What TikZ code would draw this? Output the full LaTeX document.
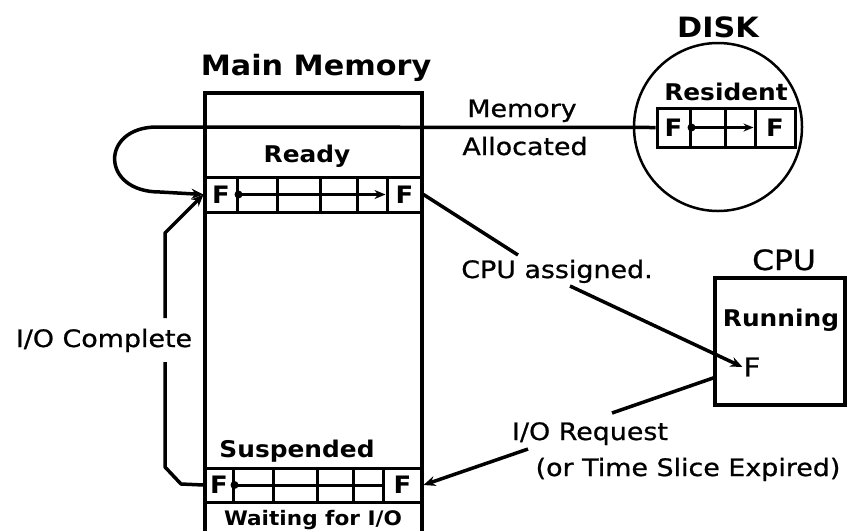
\documentclass[tikz,border=0pt]{standalone}
\usepackage{fontspec}
\setmainfont{DejaVu Sans}[FakeStretch=1.12,FakeBold=0.8]
\newfontfamily\boldfam{DejaVu Sans}[FakeStretch=1.08]
\usetikzlibrary{arrows.meta}
\begin{document}
\begin{tikzpicture}[x=1pt,y=-1pt,
  lbl/.style={font=\fontsize{24}{28}\selectfont, inner sep=0pt, anchor=base},
  ttl/.style={font=\boldfam\bfseries\fontsize{28}{32}\selectfont, inner sep=0pt, anchor=base},
  qlbl/.style={font=\boldfam\bfseries\fontsize{23}{26}\selectfont, inner sep=0pt, anchor=base},
  fcell/.style={draw, line width=3pt, rectangle, inner sep=0pt, minimum height=35,
     font=\boldfam\bfseries\fontsize{24}{26}\selectfont},
  qbox/.style={draw, line width=3pt},
  qline/.style={line width=3pt},
  conn/.style={line width=3.5pt, line join=round},
  tip/.style={-{Stealth[length=12pt,width=10pt]}},
  dot/.style={circle, fill, inner sep=0pt, minimum size=8pt},
  frame/.style={line width=4pt}
]
\useasboundingbox (0,0) rectangle (853,531);

% ---------- Main memory ----------
\node[ttl] (mmt) at (316,75) {Main Memory};
\draw[frame] (205,531) -- (205,93) -- (422,93) -- (422,531);

% Ready queue
\node[qlbl] (ready) at (307,162) {Ready};
\draw[qbox] (205,177) rectangle (422,212);
\node[fcell, minimum width=32] (rF1) at (221,194.5) {F};
\node[fcell, minimum width=35] (rF2) at (404.5,194.5) {F};
\foreach \x in {277,320,357} \draw[qline] (\x,177) -- (\x,212);
\node[dot] (rdot) at (rF1.east) {};
\draw[qline, -{Stealth[length=11pt,width=9pt]}] (rdot.center) -- (rF2.west);

% Suspended queue
\node[qlbl] (susp) at (297,457) {Suspended};
\draw[qbox] (205,468) rectangle (422,502);
\node[fcell, minimum width=28, minimum height=34] (sF1) at (219,485) {F};
\node[fcell, minimum width=39, minimum height=34] (sF2) at (402.5,485) {F};
\foreach \x in {273,317,353} \draw[qline] (\x,468) -- (\x,502);
\node[dot] (sdot) at (sF1.east) {};
\draw[qline] (sdot.center) -- (sF2.west);
\node[font=\boldfam\bfseries\fontsize{20}{22}\selectfont, inner sep=0pt, anchor=base] (wait) at (313,525) {Waiting for I/O};

% ---------- Disk ----------
\node[ttl] (diskt) at (718,37) {DISK};
\node[circle, draw, line width=2.5pt, minimum size=168, inner sep=0pt] (disk) at (718,127) {};
\node[qlbl] (res) at (726,100) {Resident};
\draw[qbox] (657,108) rectangle (795,147);
\node[fcell, minimum width=33, minimum height=39] (dF1) at (673.5,127.5) {F};
\node[fcell, minimum width=40, minimum height=39] (dF2) at (775,127.5) {F};
\draw[qline] (725,108) -- (725,147);
\node[dot] (ddot) at (dF1.east) {};
\draw[qline, -{Stealth[length=10pt,width=8pt]}] (ddot.center) -- (dF2.west);

% ---------- CPU ----------
\node[font=\fontsize{28}{32}\selectfont, inner sep=0pt, anchor=base] (cput) at (784,270) {CPU};
\node[draw, frame, minimum width=130, minimum height=127, inner sep=0pt] (cpu) at (780,341.5) {};
\node[qlbl] (run) at (781,326) {Running};
\node[font=\fontsize{26}{28}\selectfont, inner sep=1pt] (cF) at (752,367) {F};

% ---------- Connectors ----------
% Memory allocated: disk -> ready (loop around the left)
\node[lbl] (memA) at (522,117) {Memory};
\node[lbl] (memB) at (525,155) {Allocated};
\coordinate (lp1) at (157,127);
\coordinate (lp2) at (160,192);
\draw[conn, tip] (dF1.west) -- (lp1) .. controls (100,127) and (100,192) .. (lp2) -- (rF1.west);

% I/O complete: suspended -> ready
\node[lbl] (ioc) at (104,347) {I/O Complete};
\coordinate (ic1) at (165,233);
\coordinate (ic2) at (165,318);
\coordinate (ic3) at (165,362);
\coordinate (ic4) at (165,467);
\coordinate (ic5) at (181,484);
\draw[conn] (sF1.west) -- (ic5) -- (ic4) -- (ic3);
\draw[conn, tip] (ic2) -- (ic1) -- (rF1.west);

% CPU assigned: ready -> running
\node[lbl] (cpua) at (557,278) {CPU assigned.};
\coordinate (ca1) at (518,255);
\coordinate (ca2) at (570,286);
\draw[conn] (rF2.east) -- (ca1);
\draw[conn, tip] (ca2) -- (cF.west);

% I/O request: running -> suspended
\node[lbl] (ior) at (590,440) {I/O Request};
\node[lbl] (tse) at (688,476) {(or Time Slice Expired)};
\coordinate (ir1) at (716,377);
\coordinate (ir2) at (612,413);
\coordinate (ir3) at (528,449);
\draw[conn] (ir1) -- (ir2);
\draw[conn, tip] (ir3) -- (sF2.east);
\end{tikzpicture}
\end{document}
